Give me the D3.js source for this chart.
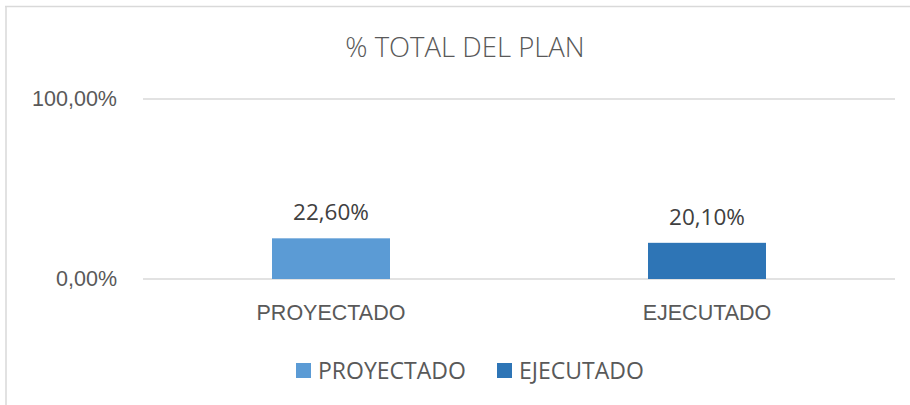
<!DOCTYPE html>
<html lang="es">
<head>
<meta charset="UTF-8"/>
<title>% TOTAL DEL PLAN</title>
<style>
  body { margin: 0; background: #ffffff; }
  svg { display: block; font-family: "Open Sans", sans-serif; }
  .axis path { display: none; }
  .axis text { fill: #595959; font-size: 21.5px; }
  .grid line { stroke: #d9d9d9; stroke-width: 1.5; }
</style>
</head>
<body>
<svg width="910" height="405"></svg>
<script src="https://d3js.org/d3.v7.min.js"></script>
<script>
const categories = ["PROYECTADO", "EJECUTADO"];
const values = [0.226, 0.201];
const colors = ["#5b9bd5", "#2e75b6"];
const yTicks = [0, 1];
const title = "% TOTAL DEL PLAN";

const svg = d3.select("svg");
const plotLeft = 143, plotRight = 895, plotTop = 99, plotBottom = 279;

// chart border (top + left, as in the screenshot)
svg.append("line").attr("x1", 5).attr("x2", 910).attr("y1", 6.5).attr("y2", 6.5)
  .attr("stroke", "#d9d9d9").attr("stroke-width", 1.5);
svg.append("line").attr("x1", 6).attr("x2", 6).attr("y1", 6).attr("y2", 405)
  .attr("stroke", "#d9d9d9").attr("stroke-width", 1.5);

const fmt = v => (v * 100).toFixed(2).replace(".", ",") + "%";

const x = d3.scaleBand().domain(categories).range([plotLeft, plotRight]).paddingInner(0).paddingOuter(0);
const y = d3.scaleLinear().domain([0, 1]).range([plotBottom, plotTop]);

// gridlines
svg.append("g").attr("class", "grid")
  .selectAll("line").data(yTicks).join("line")
  .attr("x1", plotLeft).attr("x2", plotRight)
  .attr("y1", d => y(d)).attr("y2", d => y(d));

// y axis labels
svg.append("g").attr("class", "axis")
  .attr("transform", `translate(${plotLeft - 26},0)`)
  .call(d3.axisLeft(y).tickValues(yTicks).tickSize(0).tickPadding(0).tickFormat(fmt));

// x axis labels
svg.append("g").attr("class", "axis")
  .attr("transform", `translate(0,${plotBottom + 26})`)
  .call(d3.axisBottom(x).tickSize(0).tickPadding(0))
  .selectAll("text").attr("dy", "0.71em");

// bars
const barW = 118;
svg.append("g").selectAll("rect").data(categories).join("rect")
  .attr("x", d => x(d) + x.bandwidth() / 2 - barW / 2)
  .attr("width", barW)
  .attr("y", (d, i) => y(values[i]))
  .attr("height", (d, i) => y(0) - y(values[i]))
  .attr("fill", (d, i) => colors[i]);

// value labels
svg.append("g").selectAll("text").data(categories).join("text")
  .attr("x", d => x(d) + x.bandwidth() / 2)
  .attr("y", (d, i) => y(values[i]) - 18)
  .attr("text-anchor", "middle")
  .attr("fill", "#404040")
  .attr("font-size", 22.5)
  .text((d, i) => fmt(values[i]));

// title
svg.append("text")
  .attr("x", 465).attr("y", 57)
  .attr("text-anchor", "middle")
  .attr("fill", "#595959")
  .attr("font-size", 27.5)
  .attr("font-weight", 300)
  .text(title);

// legend
const legendX = [296, 497];
const lg = svg.append("g").selectAll("g").data(categories).join("g")
  .attr("transform", (d, i) => `translate(${legendX[i]},363)`);
lg.append("rect").attr("width", 15).attr("height", 15).attr("fill", (d, i) => colors[i]);
lg.append("text").attr("x", 22).attr("y", 15.5)
  .attr("fill", "#595959").attr("font-size", 23)
  .text(d => d);
</script>
</body>
</html>
